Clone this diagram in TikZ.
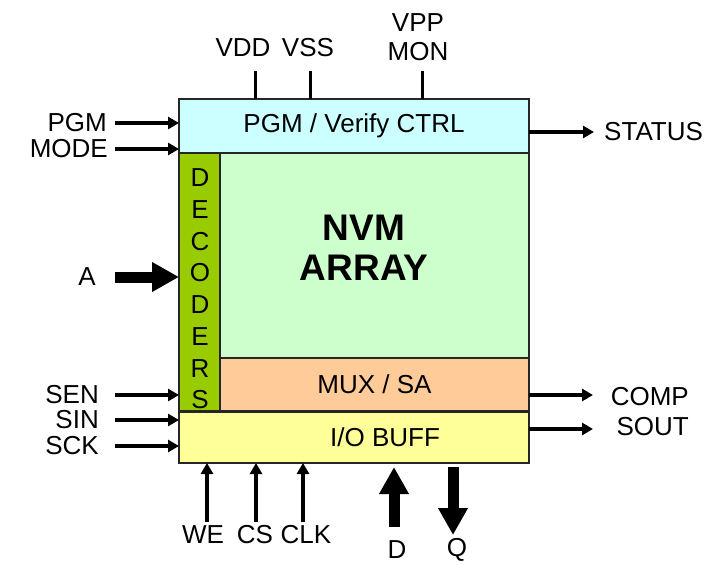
\documentclass[tikz,border=0pt]{standalone}
\usepackage{fontspec}
\setmainfont{Liberation Sans}
\usepackage{xcolor}
\usetikzlibrary{arrows.meta,positioning}
\definecolor{ctrlfill}{HTML}{CCFFFF}
\definecolor{arrfill}{HTML}{CCFFCC}
\definecolor{decfill}{HTML}{99CC00}
\definecolor{muxfill}{HTML}{FFCC99}
\definecolor{iofill}{HTML}{FFFF99}
\begin{document}
\begin{tikzpicture}[
  x=1pt,y=-1pt,
  blk/.style    ={rectangle,draw=black!85,line width=2pt,inner sep=0pt,outer sep=0pt,
                  anchor=north west,font=\fontsize{26}{31}\selectfont},
  ctrlbox/.style={blk,fill=ctrlfill,minimum width=350pt,minimum height=54pt},
  decbox/.style ={blk,fill=decfill,minimum width=41pt,minimum height=258pt},
  arrbox/.style ={blk,fill=arrfill,minimum width=309pt,minimum height=205pt},
  muxbox/.style ={blk,fill=muxfill,minimum width=309pt,minimum height=53pt},
  iobox/.style  ={blk,fill=iofill,minimum width=350pt,minimum height=52pt},
  lbl/.style    ={inner sep=0pt,font=\fontsize{26}{29}\selectfont,align=center},
  big/.style    ={inner sep=0pt,font=\fontsize{37}{40}\selectfont\bfseries,align=center},
  sig/.style    ={-{Triangle[length=11pt,width=12pt]},line width=4pt},
  bus/.style    ={-{Triangle[length=27pt,width=28pt]},line width=11pt},
  pin/.style    ={line width=3pt}
]
\useasboundingbox (0,0) rectangle (713,565);
\node[ctrlbox] (ctrl) at (179,99)           {PGM / Verify CTRL};
\node[decbox]  (dec)  at (ctrl.south west)  {};
\node[arrbox]  (arr)  at (dec.north east)   {};
\node[muxbox]  (mux)  at (arr.south west)   {MUX / SA};
\node[iobox]   (io)   at (dec.south west)   {};
\draw[black!85,line width=3pt] (io.north west) -- (io.north east);
\node[lbl] (iotxt)  at (385,437) {I/O BUFF};
\node[big] (arrtxt) at (364,248) {NVM\\ARRAY};
\node[inner sep=0pt,font=\fontsize{26}{31.7}\selectfont,align=center]
  (dectxt) at (200,289) {D\\E\\C\\O\\D\\E\\R\\S};
\foreach \nm/\xx in {vdd/255,vss/310,vpp/422}{
  \coordinate (\nm top) at (\xx,71);
  \draw[pin] (\nm top) -- (\nm top |- ctrl.north);
}
\node[lbl] (vdd) at (243,48) {VDD};
\node[lbl] (vss) at (308,48) {VSS};
\node[lbl] (vpp) at (418,37) {VPP\\MON};
\foreach \nm/\txt/\yy/\gap/\dst in {pgm/PGM/123/8/ctrl,mode/MODE/149/7/ctrl,
                                     sen/SEN/395/16/dec,sin/SIN/420/16/io,sck/SCK/446/16/io}{
  \coordinate (\nm in) at (115,\yy);
  \node[lbl,left=\gap pt of \nm in] (\nm) {\txt};
  \draw[sig] (\nm in) -- (\nm in -| \dst.west);
}
\coordinate (ain) at (115,277);
\node[lbl,left=19pt of ain] (a) {A};
\draw[bus] (ain) -- (ain -| dec.west);
\coordinate (statout) at (594,132);
\coordinate (compout) at (593,395);
\coordinate (soutout) at (593,429);
\draw[sig] (ctrl.east |- statout) -- (statout);
\draw[sig] (mux.east |- compout) -- (compout);
\draw[sig] (io.east |- soutout) -- (soutout);
\node[lbl,right=10pt of statout] (status) {STATUS};
\node[lbl,anchor=east] (comp) at (689,397) {COMP};
\node[lbl,anchor=east] (sout) at (689,427) {SOUT};
\foreach \nm/\xx in {we/207,cs/256,clk/303}{
  \coordinate (\nm in) at (\xx,522);
  \draw[sig] (\nm in) -- (\nm in |- io.south);
}
\node[lbl] (we)  at (203,535) {WE};
\node[lbl] (cs)  at (255,535) {CS};
\node[lbl] (clk) at (306,535) {CLK};
\coordinate (din)  at (394,527);
\coordinate (qout) at (453,535);
\draw[bus,shorten >=4pt] (din) -- (din |- io.south);
\draw[bus,shorten <=4pt] (qout |- io.south) -- (qout);
\node[lbl] (d) at (397,550) {D};
\node[lbl] (q) at (457,550) {Q};
\end{tikzpicture}
\end{document}
